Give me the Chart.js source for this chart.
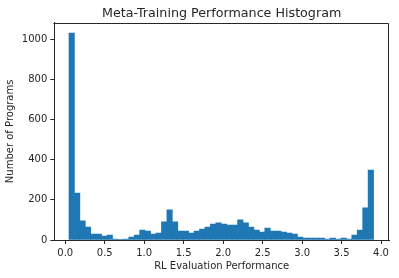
<!DOCTYPE html>
<html>
<head>
<meta charset="utf-8">
<script src="https://cdn.jsdelivr.net/npm/chart.js@4/dist/chart.umd.min.js"></script>
<style>
  html, body { margin: 0; padding: 0; background: #fff; }
  #wrap { width: 399px; height: 278px; }
</style>
</head>
<body>
<div id="wrap"><canvas id="histChart" width="399" height="278"></canvas></div>
<script>
// histogram: 56 bins, first edge and bin width
const binStart = 0.047;
const binWidth = 0.0689;
const counts = [
  1032, 234, 95, 65, 30, 30, 20, 25, 5, 1,
  5, 15, 25, 50, 45, 30, 35, 90, 150, 90,
  45, 45, 35, 45, 55, 65, 80, 85, 80, 75,
  75, 100, 85, 65, 50, 40, 60, 45, 45, 40,
  35, 30, 15, 10, 10, 10, 10, 5, 10, 5,
  10, 5, 25, 50, 160, 349
];
const xTicks = [0, 0.5, 1.0, 1.5, 2.0, 2.5, 3.0, 3.5, 4.0];
const yTicks = [0, 200, 400, 600, 800, 1000];
const titleText = 'Meta-Training Performance Histogram';

const ink = '#262626';
const font = 'DejaVu Sans';

const points = counts.map((c, i) => ({ x: binStart + binWidth * (i + 0.5), y: c }));

// spines on top and right, and the title centred over the axes like matplotlib
const frame = {
  id: 'frame',
  afterDraw(chart) {
    const a = chart.chartArea;
    const c = chart.ctx;
    c.save();
    c.strokeStyle = ink;
    c.lineWidth = 1;
    c.beginPath();
    c.moveTo(Math.round(a.left) - 0.5, Math.round(a.top) + 0.5);
    c.lineTo(Math.round(a.right) - 0.5, Math.round(a.top) + 0.5);
    c.lineTo(Math.round(a.right) - 0.5, Math.round(a.bottom));
    c.stroke();
    c.fillStyle = ink;
    c.font = '12.7px "' + font + '"';
    c.textAlign = 'center';
    c.textBaseline = 'alphabetic';
    c.fillText(titleText, (a.left + a.right) / 2, a.top - 6);
    c.restore();
  }
};

new Chart(document.getElementById('histChart').getContext('2d'), {
  type: 'bar',
  data: {
    datasets: [{
      data: points,
      backgroundColor: '#1f77b4',
      borderWidth: 0,
      barPercentage: 1,
      categoryPercentage: 1
    }]
  },
  options: {
    responsive: false,
    animation: false,
    layout: { padding: { left: 0, right: 10, top: 22.7, bottom: 0 } },
    plugins: {
      legend: { display: false },
      tooltip: { enabled: false },
      title: { display: false }
    },
    scales: {
      x: {
        type: 'linear',
        min: -0.139,
        max: 4.101,
        offset: false,
        afterBuildTicks(s) { s.ticks = xTicks.map(v => ({ value: v })); },
        afterFit(s) { s.height = 38; },
        ticks: {
          color: ink,
          font: { family: font, size: 10 },
          padding: 3,
          maxRotation: 0,
          callback: v => v.toFixed(1)
        },
        grid: { display: true, drawOnChartArea: false, drawTicks: true, tickLength: 4, color: ink, offset: false },
        border: { display: true, color: ink, width: 1 },
        title: {
          display: true,
          text: 'RL Evaluation Performance',
          color: ink,
          font: { family: font, size: 10 },
          padding: { top: 4, bottom: 6 }
        }
      },
      y: {
        min: 0,
        max: 1083.6,
        afterBuildTicks(s) { s.ticks = yTicks.map(v => ({ value: v })); },
        afterFit(s) { s.width = 54.3; },
        ticks: {
          color: ink,
          font: { family: font, size: 10 },
          padding: 3,
          callback: v => String(v)
        },
        grid: { display: true, drawOnChartArea: false, drawTicks: true, tickLength: 4, color: ink },
        border: { display: true, color: ink, width: 1 },
        title: {
          display: true,
          text: 'Number of Programs',
          color: ink,
          font: { family: font, size: 10 },
          padding: { top: 4.5, bottom: 0 }
        }
      }
    }
  },
  plugins: [frame]
});
</script>
</body>
</html>
